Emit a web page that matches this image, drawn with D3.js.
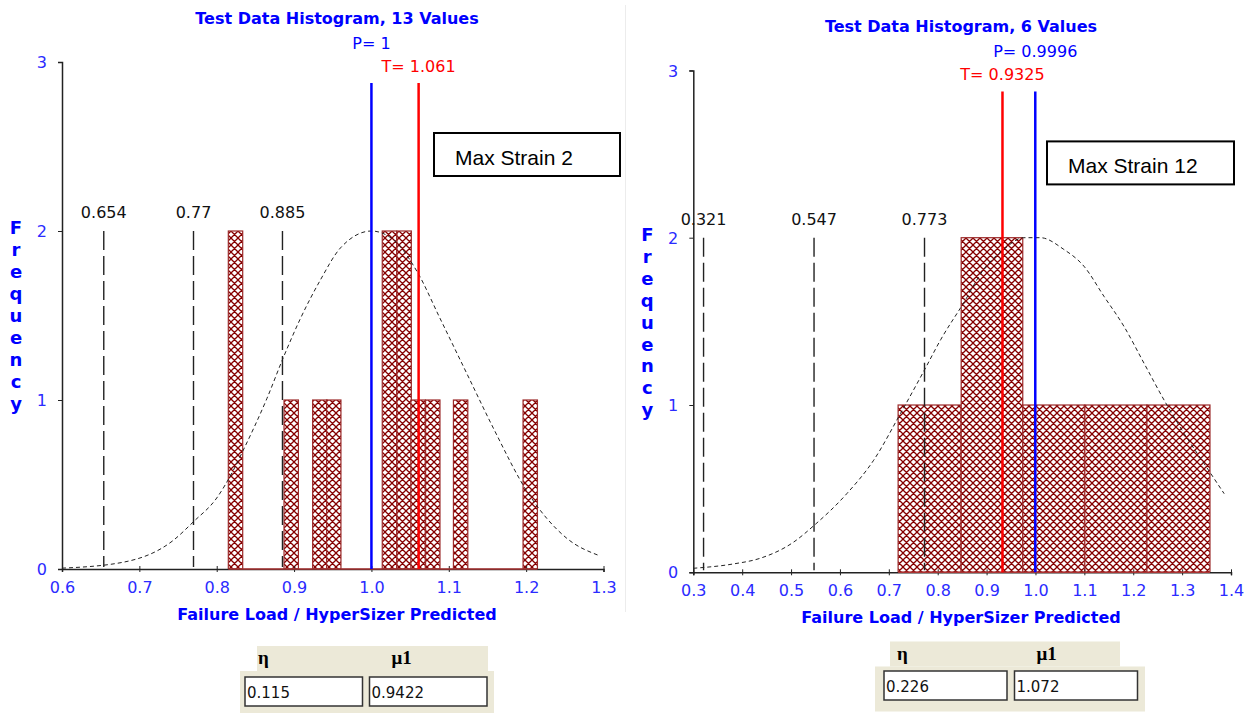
<!DOCTYPE html>
<html>
<head>
<meta charset="utf-8">
<script src="https://cdn.jsdelivr.net/npm/d3@7"></script>
<style>
  body { margin: 0; background: #fff; }
  text { font-family: "DejaVu Sans", Verdana, sans-serif; }
</style>
</head>
<body>
<div id="chartDiv"></div>
<script>

// ---- left panel data (Max Strain 2) ----
var leftTitle = "Test Data Histogram, 13 Values";
var leftBinStarts = [0.815, 0.887, 0.924, 0.942, 1.014, 1.033, 1.051, 1.070, 1.106, 1.196];
var leftCounts = [2, 1, 1, 1, 2, 2, 1, 1, 1, 1];
var leftBinWidth = 0.0186;
var leftMarkers = [0.654, 0.77, 0.885];
var leftMarkerLabels = ["0.654", "0.77", "0.885"];
var leftP = 1, leftPLabel = "P= 1";
var leftT = 1.061, leftTLabel = "T= 1.061";
var leftXTicks = [0.6, 0.7, 0.8, 0.9, 1.0, 1.1, 1.2, 1.3];
var leftCurve = [[0.6,0.005],[0.679,0.04],[0.744,0.17],[0.77,0.28],[0.80,0.42],[0.821,0.58],[0.834,0.70],
  [0.865,1.01],[0.886,1.25],[0.908,1.48],[0.934,1.71],[0.96,1.90],[1.0,2.0],[1.028,1.95],[1.059,1.76],
  [1.089,1.48],[1.124,1.15],[1.158,0.83],[1.201,0.46],[1.253,0.18],[1.294,0.08]];
var leftEta = "0.115", leftMu = "0.9422";

// ---- right panel data (Max Strain 12) ----
var rightTitle = "Test Data Histogram, 6 Values";
var rightBinEdges = [0.719, 0.848, 0.974, 1.101, 1.228, 1.357];
var rightCounts = [1, 2, 1, 1, 1];
var rightMarkers = [0.321, 0.547, 0.773];
var rightMarkerLabels = ["0.321", "0.547", "0.773"];
var rightP = 0.9996, rightPLabel = "P= 0.9996";
var rightT = 0.9325, rightTLabel = "T= 0.9325";
var rightXTicks = [0.3, 0.4, 0.5, 0.6, 0.7, 0.8, 0.9, 1.0, 1.1, 1.2, 1.3, 1.4];
var rightCurve = [[0.3,0.024],[0.382,0.05],[0.437,0.084],[0.505,0.18],[0.547,0.28],[0.614,0.47],[0.669,0.67],
  [0.724,0.95],[0.773,1.21],[0.806,1.39],[0.853,1.61],[0.894,1.81],[0.935,1.93],[0.976,2.0],[1.01,2.0],
  [1.058,1.93],[1.099,1.83],[1.14,1.65],[1.181,1.47],[1.222,1.25],[1.263,1.03],[1.304,0.83],[1.345,0.65],[1.386,0.47]];
var rightEta = "0.226", rightMu = "1.072";

var yTicks = [0, 1, 2, 3];

var svg = d3.select("#chartDiv").append("svg")
    .attr("width", 1250)
    .attr("height", 713);

svg.append("rect").attr("width", 1250).attr("height", 713).attr("fill", "white");

// crosshatch used by the histogram bars
var defs = svg.append("defs");
var hatch = defs.append("pattern")
    .attr("id", "hatch")
    .attr("patternUnits", "userSpaceOnUse")
    .attr("width", 7)
    .attr("height", 7);
hatch.append("rect").attr("width", 7).attr("height", 7).attr("fill", "white");
hatch.append("path")
    .attr("d", "M0,0 L7,7 M7,0 L0,7 M-1,6 L1,8 M6,-1 L8,1")
    .attr("stroke", "#850000")
    .attr("stroke-width", 1.3);

// faint divider between the two screenshots
svg.append("line")
    .attr("x1", 625.5).attr("x2", 625.5)
    .attr("y1", 5).attr("y2", 612)
    .attr("stroke", "#ececec");

function drawPanel(cfg) {
  var g = svg.append("g");

  var x = d3.scaleLinear().domain(cfg.xDomain).range(cfg.xRange);
  var y = d3.scaleLinear().domain([0, 3]).range([cfg.y0, cfg.y0 - 3 * cfg.unit]);
  var top = y(3);

  // bars
  g.selectAll(".bar").data(cfg.bins).enter()
    .append("rect").attr("class", "bar")
    .attr("x", function(d){ return x(d.x0); })
    .attr("y", function(d){ return y(d.n); })
    .attr("width", function(d){ return x(d.x1) - x(d.x0); })
    .attr("height", function(d){ return y(0) - y(d.n); })
    .attr("fill", "url(#hatch)")
    .attr("stroke", "#9c2a2a")
    .attr("stroke-width", 1.2);

  // axes
  var xAxis = g.append("g")
    .attr("transform", "translate(0," + y(0) + ")")
    .call(d3.axisBottom(x).tickValues(cfg.xTicks).tickSizeOuter(0).tickSize(3).tickFormat(d3.format(".1f")));
  xAxis.select(".domain").attr("stroke", "#222").attr("stroke-width", 1.5);
  xAxis.selectAll(".tick line").attr("y1", -3).attr("y2", 3).attr("stroke", "#222");
  xAxis.selectAll(".tick text")
    .attr("y", 19)
    .attr("dy", "0.3em")
    .attr("fill", "#2b2bff")
    .style("font-family", "DejaVu Sans")
    .style("font-size", "16px");

  var yAxis = g.append("g")
    .attr("transform", "translate(" + x(cfg.xDomain[0]) + ",0)")
    .call(d3.axisLeft(y).tickValues(yTicks).tickSizeOuter(0).tickSize(4).tickFormat(d3.format("d")));
  yAxis.select(".domain").attr("stroke", "#222").attr("stroke-width", 1.5);
  yAxis.selectAll(".tick line").attr("stroke", "#222");
  yAxis.selectAll(".tick text")
    .attr("x", -15)
    .attr("dy", "0.35em")
    .attr("fill", "#2b2bff")
    .style("font-family", "DejaVu Sans")
    .style("font-size", "16px");

  // red base line under the bars
  var b0 = cfg.bins[0].x0, b1 = cfg.bins[cfg.bins.length - 1].x1;
  g.append("line")
    .attr("x1", x(b0)).attr("x2", x(b1))
    .attr("y1", y(0)).attr("y2", y(0))
    .attr("stroke", "#a33").attr("stroke-width", 1.5);

  // percentile lines
  g.selectAll(".marker").data(cfg.markers).enter()
    .append("line").attr("class", "marker")
    .attr("x1", function(d){ return x(d); })
    .attr("x2", function(d){ return x(d); })
    .attr("y1", y(2))
    .attr("y2", y(0) - 2)
    .attr("stroke", "#222")
    .attr("stroke-width", 1.4)
    .attr("stroke-dasharray", "19,6");

  g.selectAll(".markerLabel").data(cfg.markers).enter()
    .append("text").attr("class", "markerLabel")
    .attr("x", function(d){ return x(d); })
    .attr("y", y(2) - 13)
    .attr("text-anchor", "middle")
    .attr("fill", "#111")
    .style("font-size", "16px")
    .text(function(d, i){ return cfg.markerLabels[i]; });

  // fitted curve
  var line = d3.line()
    .x(function(d){ return x(d[0]); })
    .y(function(d){ return y(d[1]); })
    .curve(d3.curveMonotoneX);
  g.append("path")
    .datum(cfg.curve)
    .attr("d", line)
    .attr("fill", "none")
    .attr("stroke", "#222")
    .attr("stroke-width", 1)
    .attr("stroke-dasharray", "4,3");

  // P and T lines
  var pt = [
    {v: cfg.P, label: cfg.PLabel, color: "#0000ff", ty: top - 13},
    {v: cfg.T, label: cfg.TLabel, color: "#ff0000", ty: top + 10}
  ];
  g.selectAll(".ptLine").data(pt).enter()
    .append("line").attr("class", "ptLine")
    .attr("x1", function(d){ return x(d.v); })
    .attr("x2", function(d){ return x(d.v); })
    .attr("y1", top + 21)
    .attr("y2", y(0))
    .attr("stroke", function(d){ return d.color; })
    .attr("stroke-width", 2.5);
  g.selectAll(".ptLabel").data(pt).enter()
    .append("text").attr("class", "ptLabel")
    .attr("x", function(d){ return x(d.v); })
    .attr("y", function(d){ return d.ty; })
    .attr("text-anchor", "middle")
    .attr("fill", function(d){ return d.color; })
    .style("font-size", "16px")
    .text(function(d){ return d.label; });

  // titles
  g.append("text")
    .text(cfg.title)
    .attr("x", cfg.titleX)
    .attr("y", top - 38)
    .attr("text-anchor", "middle")
    .attr("fill", "#0000ff")
    .style("font-weight", "bold")
    .style("font-size", "16px");

  g.append("text")
    .text("Failure Load / HyperSizer Predicted")
    .attr("x", cfg.titleX)
    .attr("y", y(0) + 51)
    .attr("text-anchor", "middle")
    .attr("fill", "#0000ff")
    .style("font-weight", "bold")
    .style("font-size", "16px");

  // stacked "Frequency"
  var letters = "Frequency".split("");
  g.selectAll(".freq").data(letters).enter()
    .append("text").attr("class", "freq")
    .attr("x", x(cfg.xDomain[0]) - 46)
    .attr("y", function(d, i){ return y(2) - 3 + i * 21.9; })
    .attr("dy", "0.35em")
    .attr("text-anchor", "middle")
    .attr("fill", "#0000ff")
    .style("font-weight", "bold")
    .style("font-size", "18px")
    .text(function(d){ return d; });

  // label box
  g.append("rect")
    .attr("x", cfg.box[0]).attr("y", top + 71)
    .attr("width", cfg.box[1]).attr("height", 43)
    .attr("fill", "white")
    .attr("stroke", "#000")
    .attr("stroke-width", 2);
  g.append("text")
    .text(cfg.boxLabel)
    .attr("x", cfg.box[0] + 21)
    .attr("y", top + 103)
    .attr("fill", "#000")
    .style("font-family", "Liberation Sans, Arial, sans-serif")
    .style("font-size", "21px");

  // parameter table below the chart
  var t = cfg.table;
  g.append("rect").attr("x", t.lx).attr("y", t.hy + 25).attr("width", t.lw).attr("height", t.lh).attr("fill", "#ece9d8");
  g.append("rect").attr("x", t.hx).attr("y", t.hy).attr("width", t.hw).attr("height", 25).attr("fill", "#ece9d8");
  var heads = [{s: "\u03b7", x: t.bx[0] + 13}, {s: "\u03bc1", x: t.bx[1] + 22}];
  g.selectAll(".head").data(heads).enter()
    .append("text").attr("class", "head")
    .attr("x", function(d){ return d.x; })
    .attr("y", t.hy + 18)
    .attr("fill", "#000")
    .style("font-family", "Liberation Serif, DejaVu Serif, serif")
    .style("font-weight", "bold")
    .style("font-size", "19px")
    .text(function(d){ return d.s; });
  var vals = [cfg.eta, cfg.mu];
  g.selectAll(".valBox").data(vals).enter()
    .append("rect").attr("class", "valBox")
    .attr("x", function(d, i){ return t.bx[i]; })
    .attr("y", t.by)
    .attr("width", t.bw)
    .attr("height", 29)
    .attr("fill", "white")
    .attr("stroke", "#333")
    .attr("stroke-width", 1.5);
  g.selectAll(".val").data(vals).enter()
    .append("text").attr("class", "val")
    .attr("x", function(d, i){ return t.bx[i] + 2; })
    .attr("y", t.by + 21)
    .attr("fill", "#111")
    .style("font-size", "15px")
    .text(function(d){ return d; });
}

drawPanel({
  title: leftTitle,
  titleX: 337,
  xDomain: [0.6, 1.3], xRange: [62, 603.5], xTicks: leftXTicks,
  y0: 569, unit: 169,
  bins: leftBinStarts.map(function(s, i){ return {x0: s, x1: s + leftBinWidth, n: leftCounts[i]}; }),
  markers: leftMarkers, markerLabels: leftMarkerLabels,
  P: leftP, PLabel: leftPLabel, T: leftT, TLabel: leftTLabel,
  curve: leftCurve,
  box: [434, 186], boxLabel: "Max Strain 2",
  eta: leftEta, mu: leftMu,
  table: {lx: 240, lw: 254, lh: 42, hx: 257, hw: 231, hy: 646, bx: [245, 369.5], by: 677, bw: 117.5}
});

drawPanel({
  title: rightTitle,
  titleX: 961,
  xDomain: [0.3, 1.4], xRange: [693.3, 1231], xTicks: rightXTicks,
  y0: 572.3, unit: 167.3,
  bins: rightCounts.map(function(n, i){ return {x0: rightBinEdges[i], x1: rightBinEdges[i + 1], n: n}; }),
  markers: rightMarkers, markerLabels: rightMarkerLabels,
  P: rightP, PLabel: rightPLabel, T: rightT, TLabel: rightTLabel,
  curve: rightCurve,
  box: [1047, 187], boxLabel: "Max Strain 12",
  eta: rightEta, mu: rightMu,
  table: {lx: 875, lw: 270, lh: 45, hx: 890, hw: 230, hy: 641.5, bx: [884, 1014.5], by: 671, bw: 123}
});

</script>
</body>
</html>
